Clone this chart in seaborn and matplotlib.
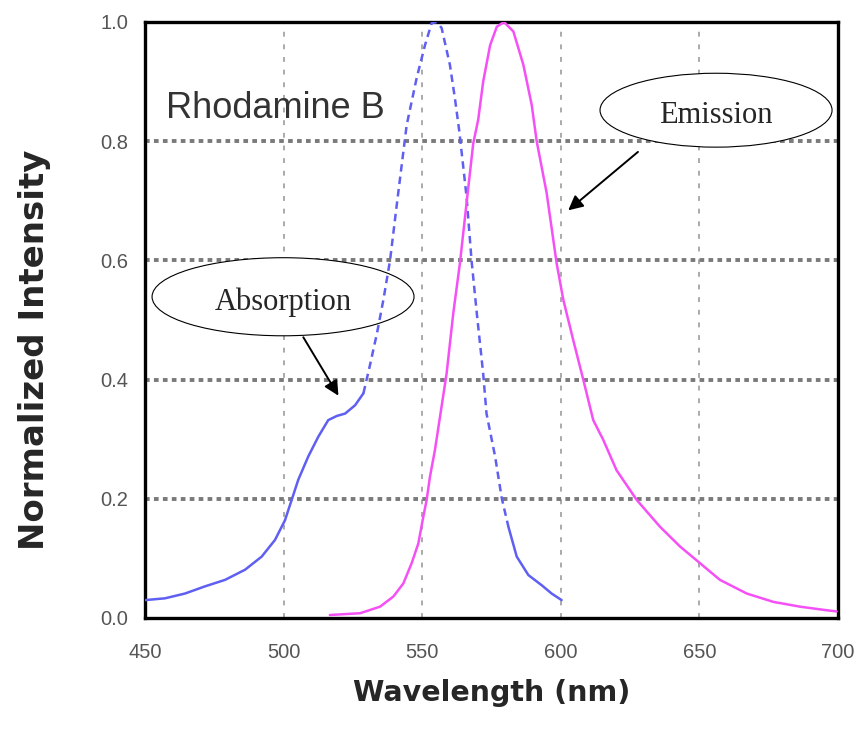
import numpy as np
import pandas as pd
import matplotlib
matplotlib.use("Agg")
import matplotlib.pyplot as plt
from matplotlib.patches import Ellipse
import seaborn as sns

# -----------------------------
# DATA
# -----------------------------
abs_wl = [450, 457.2, 464.4, 471.6, 478.9, 486.1, 492.1, 496.9, 500.5, 502.9, 505.3,
          508.9, 512.5, 516.1, 519.2, 522.2, 525.8, 528.8, 531, 533.7, 536, 538.4,
          541, 544.4, 548.0, 551.0, 553.4, 555.3, 557.0, 560.0, 561.8, 563.4, 566.0,
          567.8, 569.7, 572.0, 573.2, 576.3, 578.7, 581.1, 584.1, 588.3, 593.1,
          596.7, 600.3]
abs_val = [0.030, 0.033, 0.041, 0.053, 0.064, 0.081, 0.103, 0.131, 0.164, 0.198, 0.232,
           0.271, 0.304, 0.332, 0.339, 0.343, 0.357, 0.377, 0.421, 0.478, 0.534, 0.60,
           0.70, 0.827, 0.906, 0.961, 0.998, 1.0, 0.99, 0.928, 0.872, 0.816, 0.707,
           0.60, 0.511, 0.41, 0.343, 0.271, 0.201, 0.153, 0.103, 0.072, 0.055,
           0.041, 0.030]

em_wl = [516.7, 527.6, 534.8, 539.6, 543.2, 546.2, 548.6, 550.4, 551.6, 552.8, 554.6,
         558.8, 561.2, 563.6, 566.0, 568.4, 570.2, 572.0, 574.5, 576.9, 579.5, 582.9,
         586.5, 589.5, 591.3, 594.9, 598.5, 600.9, 604.5, 608.1, 611.7, 615.3, 620.1,
         627.4, 635.8, 643.0, 650.2, 657.4, 667.1, 676.7, 686.3, 695.9, 699.5]
em_val = [0.005, 0.008, 0.019, 0.036, 0.058, 0.092, 0.125, 0.170, 0.198, 0.237, 0.282,
          0.41, 0.511, 0.595, 0.696, 0.796, 0.836, 0.90, 0.961, 0.992, 1.0, 0.984,
          0.928, 0.861, 0.80, 0.713, 0.595, 0.534, 0.466, 0.40, 0.332, 0.299, 0.248,
          0.198, 0.153, 0.120, 0.092, 0.064, 0.041, 0.027, 0.019, 0.013, 0.011]

x_ticks = [450, 500, 550, 600, 650, 700]
y_ticks = [0.0, 0.2, 0.4, 0.6, 0.8, 1.0]

# dashed part of the absorption curve
DASH_START, DASH_END = 528.8, 581.1

BLUE = "#5f5ff2"
MAGENTA = "#f550f5"

abs_df = pd.DataFrame({"wl": abs_wl, "val": abs_val})
em_df = pd.DataFrame({"wl": em_wl, "val": em_val})

sns.set_style("white")
plt.rcParams["font.family"] = ["Liberation Sans", "DejaVu Sans"]

fig = plt.figure(figsize=(8.61, 7.33), dpi=100)
ax = fig.add_axes([0.1684, 0.1569, 0.8049, 0.8131])

# grid
for x in x_ticks[1:-1]:
    ax.axvline(x, color="#aaaaaa", lw=1.4, linestyle=(0, (2.5, 4)), zorder=1)
for y in y_ticks[1:-1]:
    ax.axhline(y, color="#7a7a7a", lw=2.8, linestyle=(0, (1.2, 1.1)), zorder=1)

# absorption: solid / dashed / solid
seg1 = abs_df[abs_df.wl <= DASH_START]
seg2 = abs_df[(abs_df.wl >= DASH_START) & (abs_df.wl <= DASH_END)]
seg3 = abs_df[abs_df.wl >= DASH_END]
sns.lineplot(data=seg1, x="wl", y="val", ax=ax, color=BLUE, lw=1.8, estimator=None, zorder=3)
sns.lineplot(data=seg2, x="wl", y="val", ax=ax, color=BLUE, lw=1.8, estimator=None,
             linestyle=(0, (3, 2)), zorder=3)
sns.lineplot(data=seg3, x="wl", y="val", ax=ax, color=BLUE, lw=1.8, estimator=None, zorder=3)

# emission
sns.lineplot(data=em_df, x="wl", y="val", ax=ax, color=MAGENTA, lw=1.8, estimator=None, zorder=3)

ax.set_xlim(450, 700)
ax.set_ylim(0, 1.0)
ax.set_xticks(x_ticks)
ax.set_yticks(y_ticks)
ax.set_yticklabels([f"{v:.1f}" for v in y_ticks])
ax.tick_params(length=0, labelsize=14.5, labelcolor="#555555")
ax.tick_params(axis="x", pad=18)
ax.tick_params(axis="y", pad=12)
for lab in ax.get_xticklabels() + ax.get_yticklabels():
    lab.set_family(["Liberation Sans Narrow", "Liberation Sans", "DejaVu Sans"])
for s in ax.spines.values():
    s.set_visible(True)
    s.set_color("black")
    s.set_linewidth(2.4)

ax.set_xlabel("Wavelength (nm)", fontsize=20.5, fontweight="bold", labelpad=12,
              family="DejaVu Sans")
ax.set_ylabel("Normalized Intensity", fontsize=24.5, fontweight="bold",
              family="DejaVu Sans")
ax.yaxis.set_label_coords(-0.136, 0.45)

ax.text(0.03, 0.855, "Rhodamine B", transform=ax.transAxes, fontsize=26,
        color="#333333", va="center", ha="left")

# callouts
serif = ["Liberation Serif", "DejaVu Serif"]
ax.add_patch(Ellipse((499.8, 0.539), 94.5, 0.131, facecolor="white",
                     edgecolor="black", lw=0.8, zorder=2))
ax.text(499.8, 0.530, "Absorption", fontsize=22, family=serif, ha="center",
        va="center", zorder=4)
ax.annotate("", xy=(520.3, 0.369), xytext=(506.6, 0.475),
            arrowprops=dict(arrowstyle="-|>", color="black", lw=1.4,
                            mutation_scale=22), zorder=4)

ax.add_patch(Ellipse((656, 0.852), 83.7, 0.124, facecolor="white",
                     edgecolor="black", lw=0.8, zorder=2))
ax.text(656, 0.843, "Emission", fontsize=22, family=serif, ha="center",
        va="center", zorder=4)
ax.annotate("", xy=(601.9, 0.681), xytext=(628.6, 0.785),
            arrowprops=dict(arrowstyle="-|>", color="black", lw=1.4,
                            mutation_scale=22), zorder=4)

fig.savefig("out.png", dpi=100)
